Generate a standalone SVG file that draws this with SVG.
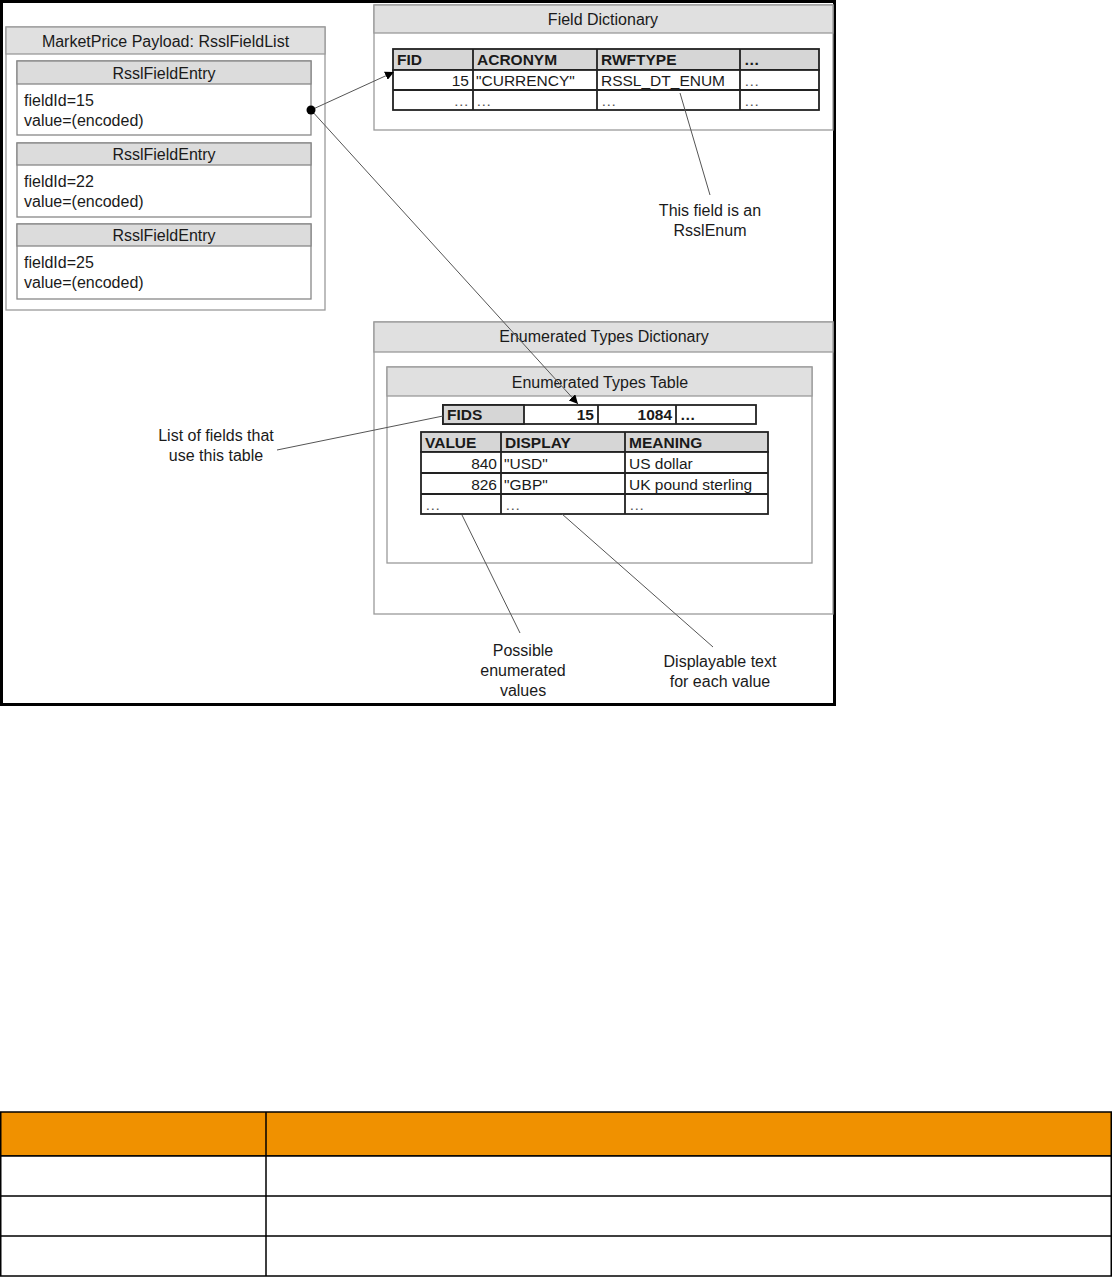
<svg xmlns="http://www.w3.org/2000/svg" width="1113" height="1277" viewBox="0 0 1113 1277">
<defs>
<marker id="arr" viewBox="0 0 10 10" refX="10" refY="5" markerWidth="9" markerHeight="9" markerUnits="userSpaceOnUse" orient="auto">
<path d="M0,0 L10,5 L0,10 Z" fill="#000"/>
</marker>
<style>
text{font-family:"Liberation Sans",Arial,sans-serif;fill:#1a1a1a}
.t16{font-size:16px}
.t15{font-size:15.5px}
.b{font-weight:bold}
.c{text-anchor:middle}
.r{text-anchor:end}
.box{fill:#fff;stroke:#9a9a9a;stroke-width:1.3}
.hdr{fill:#e0e0e0;stroke:#9a9a9a;stroke-width:1.3}
.ent{fill:#fff;stroke:#888;stroke-width:1.3}
.enth{fill:#dcdcdc;stroke:#888;stroke-width:1.3}
.tb{fill:#fff;stroke:#222;stroke-width:1.8}
.th{fill:#d6d6d6;stroke:#222;stroke-width:1.8}
.gl{stroke:#222;stroke-width:1.8;fill:none}
.con{stroke:#555;stroke-width:1;fill:none}
.dots{fill:#555}
.frame{fill:none;stroke:#000;stroke-width:3}
.tab{fill:#fff;stroke:#000;stroke-width:1.5}
</style>
</defs>
<rect width="1113" height="1277" fill="#fff"/>
<rect class="frame" x="1.5" y="1.5" width="833" height="703"/>

<g id="marketprice">
<rect class="box" x="6" y="27" width="319" height="283"/>
<rect class="hdr" x="6" y="27" width="319" height="27"/>
<text class="t16 c" x="165.5" y="47">MarketPrice Payload: RsslFieldList</text>
</g>
<g id="entry1">
<rect class="ent" x="17" y="61" width="294" height="74"/>
<rect class="enth" x="17" y="61" width="294" height="23"/>
<text class="t16 c" x="164" y="78.5">RsslFieldEntry</text>
<text class="t16" x="24" y="106">fieldId=15</text>
<text class="t16" x="24" y="126">value=(encoded)</text>
</g>
<g id="entry2">
<rect class="ent" x="17" y="143" width="294" height="74"/>
<rect class="enth" x="17" y="143" width="294" height="22"/>
<text class="t16 c" x="164" y="160">RsslFieldEntry</text>
<text class="t16" x="24" y="187">fieldId=22</text>
<text class="t16" x="24" y="207">value=(encoded)</text>
</g>
<g id="entry3">
<rect class="ent" x="17" y="224" width="294" height="75"/>
<rect class="enth" x="17" y="224" width="294" height="22"/>
<text class="t16 c" x="164" y="241">RsslFieldEntry</text>
<text class="t16" x="24" y="268">fieldId=25</text>
<text class="t16" x="24" y="288">value=(encoded)</text>
</g>

<g id="fielddict">
<rect class="box" x="374" y="5" width="459" height="125"/>
<rect class="hdr" x="374" y="5" width="459" height="28"/>
<text class="t16 c" x="603" y="25">Field Dictionary</text>
<rect class="th" x="393" y="49" width="426" height="21"/>
<rect class="tb" x="393" y="70" width="426" height="40"/>
<path class="gl" d="M393,90 H819 M473,49 V110 M597,49 V110 M740,49 V110"/>
<text class="t15 b" x="397" y="65">FID</text>
<text class="t15 b" x="477" y="65">ACRONYM</text>
<text class="t15 b" x="601" y="65">RWFTYPE</text>
<text class="t15 b" x="744" y="65">…</text>
<text class="t15 r" x="469" y="86">15</text>
<text class="t15" x="476" y="86">"CURRENCY"</text>
<text class="t15" x="601" y="86">RSSL_DT_ENUM</text>
<text class="t15 dots" x="744" y="86">…</text>
<text class="t15 r dots" x="469" y="106">…</text>
<text class="t15 dots" x="476" y="106">…</text>
<text class="t15 dots" x="601" y="106">…</text>
<text class="t15 dots" x="744" y="106">…</text>
</g>

<g id="enumdict">
<rect class="box" x="374" y="322" width="459" height="292"/>
<rect class="hdr" x="374" y="322" width="459" height="30"/>
<text class="t16 c" x="604" y="342">Enumerated Types Dictionary</text>
</g>
<g id="enumtable">
<rect class="box" x="387" y="367" width="425" height="196"/>
<rect class="hdr" x="387" y="367" width="425" height="29"/>
<text class="t16 c" x="600" y="388">Enumerated Types Table</text>
<rect class="tb" x="443" y="405" width="313" height="19"/>
<rect class="th" x="443" y="405" width="81" height="19"/>
<path class="gl" d="M598,405 V424 M676,405 V424"/>
<text class="t15 b" x="447" y="420">FIDS</text>
<text class="t15 b r" x="594" y="420">15</text>
<text class="t15 b r" x="672" y="420">1084</text>
<text class="t15 b" x="680" y="420">…</text>
<rect class="th" x="421" y="432" width="347" height="20"/>
<rect class="tb" x="421" y="452" width="347" height="62"/>
<path class="gl" d="M421,473 H768 M421,494 H768 M501,432 V514 M625,432 V514"/>
<text class="t15 b" x="425" y="448">VALUE</text>
<text class="t15 b" x="505" y="448">DISPLAY</text>
<text class="t15 b" x="629" y="448">MEANING</text>
<text class="t15 r" x="497" y="469">840</text>
<text class="t15" x="504" y="469">"USD"</text>
<text class="t15" x="629" y="469">US dollar</text>
<text class="t15 r" x="497" y="490">826</text>
<text class="t15" x="504" y="490">"GBP"</text>
<text class="t15" x="629" y="490">UK pound sterling</text>
<text class="t15 dots" x="425" y="510">…</text>
<text class="t15 dots" x="505" y="510">…</text>
<text class="t15 dots" x="629" y="510">…</text>
</g>

<g id="connectors">
<line class="con" x1="311" y1="110" x2="394" y2="72" marker-end="url(#arr)"/>
<line class="con" x1="311" y1="110" x2="578" y2="404" marker-end="url(#arr)"/>
<circle cx="311" cy="110" r="4.5" fill="#000"/>
<line class="con" x1="680" y1="93" x2="710" y2="195"/>
<line class="con" x1="277" y1="450" x2="443" y2="416"/>
<line class="con" x1="462" y1="515" x2="520" y2="633"/>
<line class="con" x1="562" y1="514" x2="713" y2="647"/>
</g>

<g id="labels">
<text class="t16 c" x="710" y="216">This field is an</text>
<text class="t16 c" x="710" y="236">RsslEnum</text>
<text class="t16 c" x="216" y="441">List of fields that</text>
<text class="t16 c" x="216" y="461">use this table</text>
<text class="t16 c" x="523" y="656">Possible</text>
<text class="t16 c" x="523" y="676">enumerated</text>
<text class="t16 c" x="523" y="696">values</text>
<text class="t16 c" x="720" y="667">Displayable text</text>
<text class="t16 c" x="720" y="687">for each value</text>
</g>

<g id="bottomtable">
<rect x="0.75" y="1112" width="1110.5" height="44" fill="#f09100" stroke="#000" stroke-width="1.5"/>
<rect class="tab" x="0.75" y="1156" width="1110.5" height="120"/>
<path d="M0.75,1196 H1111.25 M0.75,1236 H1111.25 M266,1112 V1276" stroke="#000" stroke-width="1.5" fill="none"/>
</g>
</svg>
